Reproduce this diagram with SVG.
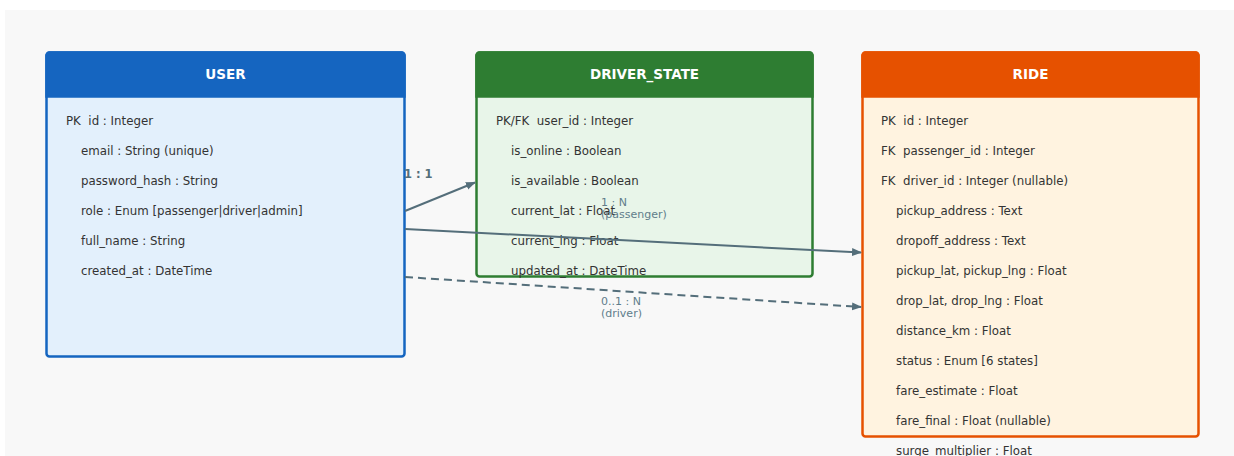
<svg xmlns="http://www.w3.org/2000/svg" width="1234" height="456" viewBox="0 0 1234 456">
<defs>
<marker id="arr" viewBox="0 0 10 10" refX="9" refY="5" markerWidth="5" markerHeight="5" orient="auto" markerUnits="strokeWidth">
<path d="M0,1 L10,5 L0,9 z" fill="#546e7a"/>
</marker>
<style>
.f{font-family:"DejaVu Sans",sans-serif;font-size:11.8px;fill:#333333;white-space:pre}
.h{font-family:"DejaVu Sans",sans-serif;font-size:13.5px;font-weight:bold;fill:#ffffff;text-anchor:middle}
.lbl{font-family:"DejaVu Sans",sans-serif;font-size:11px;fill:#607d8b}
.lblb{font-family:"DejaVu Sans",sans-serif;font-size:11.5px;font-weight:bold;fill:#546e7a}
.c{stroke:#546e7a;stroke-width:2;fill:none}
</style>
</defs>
<rect x="0" y="0" width="1234" height="456" fill="#ffffff"/>
<rect x="5" y="10" width="1229" height="446" fill="#f8f8f8"/>

<g id="user">
<rect x="46.5" y="52.5" width="358" height="304" rx="3" fill="#e3f0fc" stroke="#1565c0" stroke-width="2.5"/>
<path d="M46.5,96.5 V55.5 a3,3 0 0 1 3,-3 H401.5 a3,3 0 0 1 3,3 V96.5 Z" fill="#1565c0" stroke="#1565c0" stroke-width="2.5"/>
<text class="h" x="225.5" y="79">USER</text>
<text class="f" x="66" y="125" xml:space="preserve">PK  id : Integer</text>
<text class="f" x="81" y="155">email : String (unique)</text>
<text class="f" x="81" y="185">password_hash : String</text>
<text class="f" x="81" y="215">role : Enum [passenger|driver|admin]</text>
<text class="f" x="81" y="245">full_name : String</text>
<text class="f" x="81" y="275">created_at : DateTime</text>
</g>

<g id="driver_state">
<rect x="476.5" y="52.5" width="336" height="224" rx="3" fill="#e8f5e9" stroke="#2e7d32" stroke-width="2.5"/>
<path d="M476.5,96.5 V55.5 a3,3 0 0 1 3,-3 H809.5 a3,3 0 0 1 3,3 V96.5 Z" fill="#2e7d32" stroke="#2e7d32" stroke-width="2.5"/>
<text class="h" x="644.5" y="79">DRIVER_STATE</text>
<text class="f" x="496" y="125" xml:space="preserve">PK/FK  user_id : Integer</text>
<text class="f" x="511" y="155">is_online : Boolean</text>
<text class="f" x="511" y="185">is_available : Boolean</text>
<text class="f" x="511" y="215">current_lat : Float</text>
<text class="f" x="511" y="245">current_lng : Float</text>
<text class="f" x="511" y="275">updated_at : DateTime</text>
</g>

<g id="ride">
<rect x="862.5" y="52.5" width="336" height="384" rx="3" fill="#fff3e0" stroke="#e65100" stroke-width="2.5"/>
<path d="M862.5,96.5 V55.5 a3,3 0 0 1 3,-3 H1195.5 a3,3 0 0 1 3,3 V96.5 Z" fill="#e65100" stroke="#e65100" stroke-width="2.5"/>
<text class="h" x="1030.5" y="79">RIDE</text>
<text class="f" x="881" y="125" xml:space="preserve">PK  id : Integer</text>
<text class="f" x="881" y="155" xml:space="preserve">FK  passenger_id : Integer</text>
<text class="f" x="881" y="185" xml:space="preserve">FK  driver_id : Integer (nullable)</text>
<text class="f" x="896" y="215">pickup_address : Text</text>
<text class="f" x="896" y="245">dropoff_address : Text</text>
<text class="f" x="896" y="275">pickup_lat, pickup_lng : Float</text>
<text class="f" x="896" y="305">drop_lat, drop_lng : Float</text>
<text class="f" x="896" y="335">distance_km : Float</text>
<text class="f" x="896" y="365">status : Enum [6 states]</text>
<text class="f" x="896" y="395">fare_estimate : Float</text>
<text class="f" x="896" y="425">fare_final : Float (nullable)</text>
<text class="f" x="896" y="455">surge_multiplier : Float</text>
</g>

<g id="connectors">
<line class="c" x1="405" y1="211" x2="475" y2="182.5" marker-end="url(#arr)"/>
<text class="lblb" x="404" y="178">1 : 1</text>
<line class="c" x1="405" y1="229" x2="861" y2="252.5" marker-end="url(#arr)"/>
<text class="lbl" x="601" y="206">1 : N</text>
<text class="lbl" x="601" y="218">(passenger)</text>
<line class="c" x1="405" y1="277" x2="861" y2="307" stroke-dasharray="8,5" marker-end="url(#arr)"/>
<text class="lbl" x="601" y="305">0..1 : N</text>
<text class="lbl" x="601" y="317">(driver)</text>
</g>
</svg>
